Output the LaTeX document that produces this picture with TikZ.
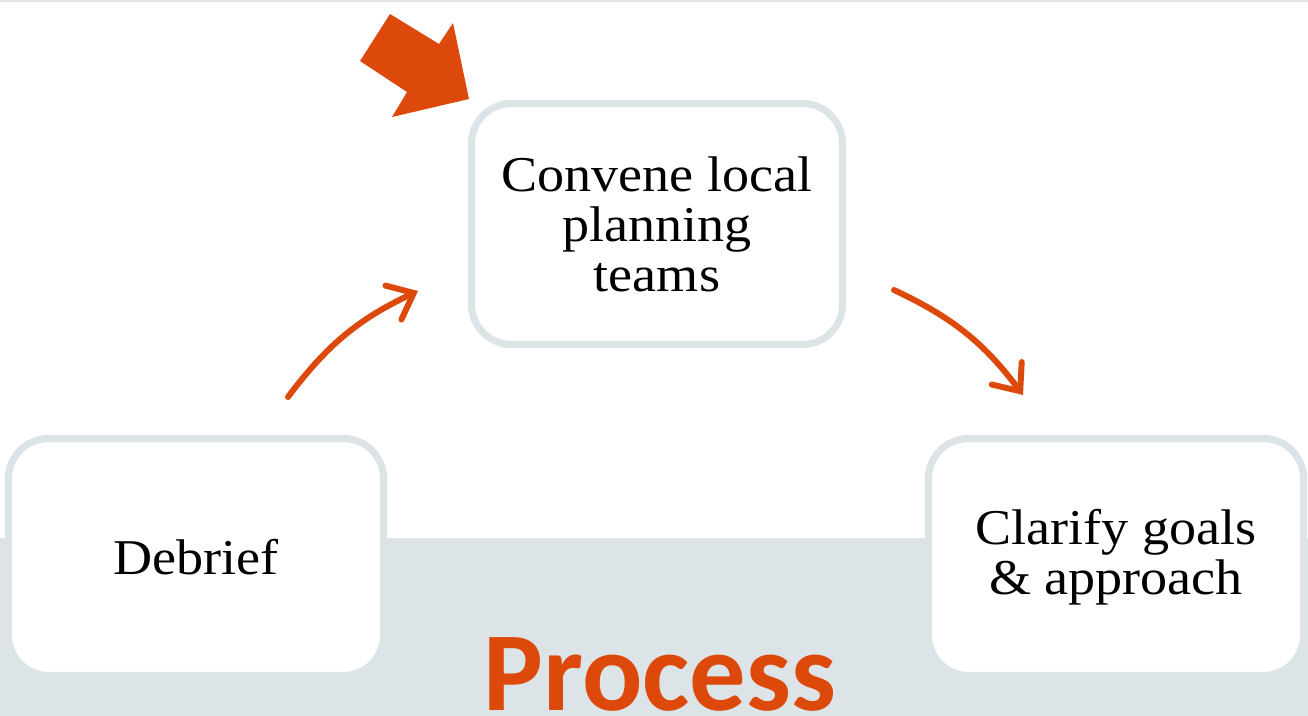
\documentclass[tikz,border=0pt]{standalone}
\usepackage{fontspec}
\setmainfont{Liberation Serif}[FakeStretch=1.08]
\newfontfamily\headfont{Carlito}
\usetikzlibrary{arrows.meta}
\definecolor{rust}{RGB}{221,73,10}
\definecolor{mist}{RGB}{220,228,231}
\tikzset{
  stage/.style={draw=mist, line width=4pt, fill=white, rounded corners=0.8cm,
    align=center, font=\fontsize{28.5}{28.5}\selectfont,
    minimum width=7.5cm, minimum height=4.74cm, inner sep=0pt},
  cycle arrow/.style={rust, line width=3.4pt, line cap=round,
    -{Straight Barb[length=0.45cm, width=0.75cm, line cap=round]}}
}

\begin{document}
\begin{tikzpicture}[x=0.2mm, y=-0.2mm]
\useasboundingbox (0,0) rectangle (1308,716);
% band behind the lower boxes and the rule on top
\fill[mist] (0,538) rectangle (1308,716);
\draw[mist, line width=1.2pt] (0,0.5) -- (1308,0.5);

% the three stages
\node[stage, minimum width=7.42cm, minimum height=4.82cm] (convene) at (657,224) {Convene local\\planning\\teams};
\node[stage] (debrief) at (196,557) {Debrief};
\node[stage] (clarify) at (1116,557) {Clarify goals\\\& approach};

% start marker
\fill[rust] (360,61) -- (390,14) -- (439,44) -- (453,23) -- (469,99)
  -- (392,117) -- (407,92) -- cycle;

% arrows round the cycle
\coordinate (debrief out) at (288,397);
\coordinate (convene in) at (418,291);
\coordinate (convene out) at (894,290);
\coordinate (clarify in) at (1023,395);
\draw[cycle arrow] (debrief out) to[bend left=14] (convene in);
\draw[cycle arrow] (convene out) to[bend left=14] (clarify in);

\node[rust, anchor=base, font=\headfont\bfseries\fontsize{64}{64}\selectfont] (title) at (660,710) {Process};
\end{tikzpicture}
\end{document}
